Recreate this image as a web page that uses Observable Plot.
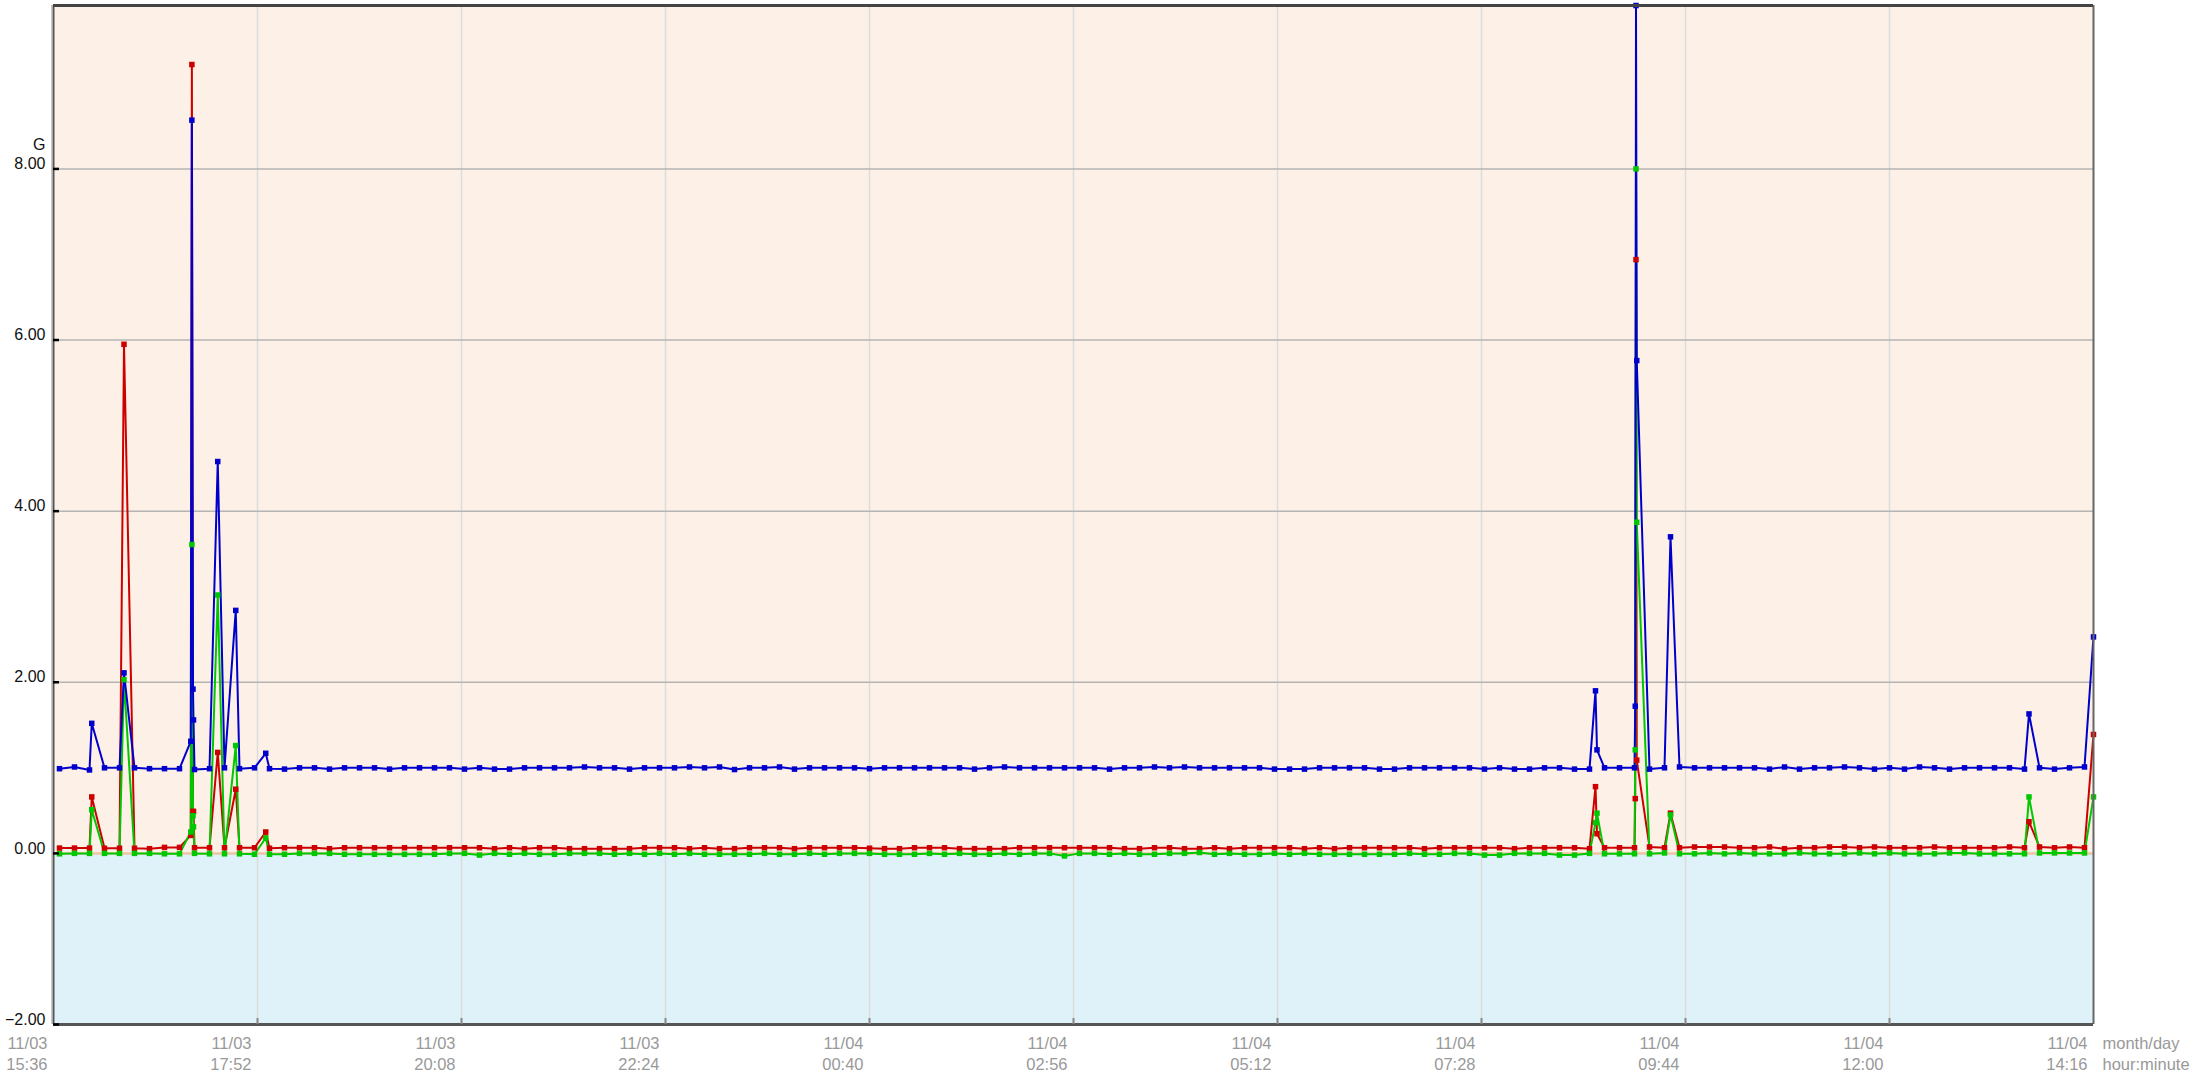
<!DOCTYPE html>
<html>
<head>
<meta charset="utf-8">
<script src="https://cdn.jsdelivr.net/npm/d3@7"></script>
<script src="https://cdn.jsdelivr.net/npm/@observablehq/plot@0.6"></script>
<style>
  html, body { margin: 0; padding: 0; background: #ffffff; }
  #chart svg { display: block; }
</style>
</head>
<body>
<div id="chart"></div>
<script>
// ---- data ----
const times = [
  "11/03 15:40","11/03 15:50","11/03 16:00","11/03 16:01:30","11/03 16:10","11/03 16:20","11/03 16:23",
  "11/03 16:30","11/03 16:40","11/03 16:50","11/03 17:00","11/03 17:07:30","11/03 17:08:15","11/03 17:09:00",
  "11/03 17:09:20","11/03 17:10","11/03 17:20","11/03 17:25:30","11/03 17:30","11/03 17:37:30","11/03 17:40",
  "11/03 17:50","11/03 17:57:30","11/03 18:00","11/03 18:10","11/03 18:20","11/03 18:30","11/03 18:40",
  "11/03 18:50","11/03 19:00","11/03 19:10","11/03 19:20","11/03 19:30","11/03 19:40","11/03 19:50",
  "11/03 20:00","11/03 20:10","11/03 20:20","11/03 20:30","11/03 20:40","11/03 20:50","11/03 21:00",
  "11/03 21:10","11/03 21:20","11/03 21:30","11/03 21:40","11/03 21:50","11/03 22:00","11/03 22:10",
  "11/03 22:20","11/03 22:30","11/03 22:40","11/03 22:50","11/03 23:00","11/03 23:10","11/03 23:20",
  "11/03 23:30","11/03 23:40","11/03 23:50","11/04 00:00","11/04 00:10","11/04 00:20","11/04 00:30",
  "11/04 00:40","11/04 00:50","11/04 01:00","11/04 01:10","11/04 01:20","11/04 01:30","11/04 01:40",
  "11/04 01:50","11/04 02:00","11/04 02:10","11/04 02:20","11/04 02:30","11/04 02:40","11/04 02:50",
  "11/04 03:00","11/04 03:10","11/04 03:20","11/04 03:30","11/04 03:40","11/04 03:50","11/04 04:00",
  "11/04 04:10","11/04 04:20","11/04 04:30","11/04 04:40","11/04 04:50","11/04 05:00","11/04 05:10",
  "11/04 05:20","11/04 05:30","11/04 05:40","11/04 05:50","11/04 06:00","11/04 06:10","11/04 06:20",
  "11/04 06:30","11/04 06:40","11/04 06:50","11/04 07:00","11/04 07:10","11/04 07:20","11/04 07:30",
  "11/04 07:40","11/04 07:50","11/04 08:00","11/04 08:10","11/04 08:20","11/04 08:30","11/04 08:40",
  "11/04 08:44","11/04 08:45","11/04 08:50","11/04 09:00","11/04 09:10","11/04 09:10:30","11/04 09:11:00",
  "11/04 09:11:30","11/04 09:20","11/04 09:30","11/04 09:34","11/04 09:40","11/04 09:50","11/04 10:00",
  "11/04 10:10","11/04 10:20","11/04 10:30","11/04 10:40","11/04 10:50","11/04 11:00","11/04 11:10",
  "11/04 11:20","11/04 11:30","11/04 11:40","11/04 11:50","11/04 12:00","11/04 12:10","11/04 12:20",
  "11/04 12:30","11/04 12:40","11/04 12:50","11/04 13:00","11/04 13:10","11/04 13:20","11/04 13:30",
  "11/04 13:33","11/04 13:40","11/04 13:50","11/04 14:00","11/04 14:10","11/04 14:16"
];

const blueSeries = [
  0.99,1.01,0.975,1.52,1.0,1.0,2.11,
  1.0,0.99,0.99,0.99,1.31,8.57,1.92,
  1.56,0.98,0.99,4.58,1.0,2.84,0.99,
  1.0,1.17,0.99,0.985,1.0,1.0,0.985,
  1.0,1.0,1.0,0.985,1.0,1.0,1.0,
  1.0,0.985,1.0,0.985,0.985,1.0,1.0,
  1.0,1.0,1.01,1.0,1.0,0.985,1.0,
  1.0,1.0,1.01,1.0,1.01,0.98,1.0,
  1.0,1.01,0.985,1.0,1.0,1.0,1.0,
  0.99,1.0,1.0,1.0,1.0,1.0,1.0,
  0.985,1.0,1.01,1.0,1.0,1.0,1.0,
  1.0,1.0,0.985,1.0,1.0,1.01,1.0,
  1.01,1.0,1.0,1.0,1.0,1.0,0.985,
  0.985,0.985,1.0,1.0,1.0,1.0,0.985,
  0.985,1.0,1.0,1.0,1.0,1.0,0.985,
  1.0,0.985,0.985,1.0,1.0,0.985,0.985,
  1.90,1.21,1.0,1.0,1.0,1.72,9.91,
  5.76,0.985,1.0,3.70,1.01,1.0,1.0,
  1.0,1.0,1.0,0.985,1.01,0.985,1.0,
  1.0,1.01,1.0,0.985,1.0,0.985,1.01,
  1.0,0.985,1.0,1.0,1.0,1.0,0.985,
  1.63,1.0,0.985,1.0,1.01,2.53
];

const redSeries = [
  0.062,0.062,0.062,0.66,0.06,0.06,5.95,
  0.06,0.055,0.07,0.07,0.21,9.22,0.49,
  0.49,0.066,0.066,1.18,0.066,0.75,0.066,
  0.066,0.25,0.06,0.066,0.066,0.066,0.055,
  0.066,0.066,0.066,0.066,0.066,0.066,0.066,
  0.066,0.066,0.066,0.055,0.066,0.055,0.066,
  0.066,0.055,0.055,0.055,0.055,0.055,0.066,
  0.066,0.066,0.055,0.066,0.055,0.055,0.066,
  0.066,0.066,0.055,0.066,0.066,0.066,0.066,
  0.06,0.055,0.055,0.066,0.066,0.066,0.055,
  0.055,0.055,0.055,0.066,0.066,0.066,0.066,
  0.066,0.066,0.066,0.055,0.055,0.066,0.066,
  0.055,0.055,0.066,0.055,0.066,0.066,0.066,
  0.066,0.055,0.066,0.055,0.066,0.066,0.066,
  0.066,0.066,0.055,0.066,0.066,0.066,0.066,
  0.066,0.055,0.066,0.066,0.066,0.066,0.055,
  0.78,0.23,0.066,0.066,0.066,0.64,6.94,
  1.09,0.075,0.066,0.47,0.066,0.075,0.075,
  0.075,0.066,0.066,0.075,0.055,0.066,0.066,
  0.075,0.075,0.066,0.075,0.066,0.066,0.066,
  0.075,0.066,0.066,0.066,0.066,0.075,0.066,
  0.37,0.075,0.066,0.075,0.066,1.39
];

const greenSeries = [
  -0.005,0.0,0.0,0.51,0.0,0.0,2.03,
  0.0,0.0,-0.005,-0.005,0.25,3.61,0.44,
  0.31,0.0,-0.005,3.02,-0.005,1.26,-0.005,
  -0.01,0.18,-0.01,-0.01,0.0,0.0,0.0,
  -0.01,-0.01,-0.01,-0.01,-0.01,-0.01,-0.01,
  0.0,0.0,-0.02,0.0,-0.01,0.0,-0.01,
  -0.01,0.0,0.0,0.0,-0.01,0.0,-0.01,
  0.0,-0.01,0.0,-0.01,-0.01,-0.01,-0.01,
  0.0,-0.01,-0.01,0.0,-0.01,0.0,0.0,
  0.0,-0.01,-0.01,-0.01,0.0,-0.01,0.0,
  -0.01,-0.01,0.0,-0.01,0.0,0.0,-0.03,
  0.0,0.0,-0.01,0.0,-0.01,-0.01,0.0,
  0.0,0.01,-0.01,0.0,-0.01,-0.01,0.0,
  -0.01,0.0,-0.01,-0.01,-0.01,-0.01,-0.01,
  -0.01,0.0,-0.01,-0.01,0.0,0.0,-0.02,
  -0.02,0.0,0.0,0.0,-0.02,-0.02,0.0,
  0.36,0.47,-0.005,-0.005,-0.005,1.21,8.0,
  3.87,-0.005,0.005,0.45,-0.005,-0.005,0.005,
  -0.005,0.005,-0.005,-0.005,-0.005,0.005,-0.005,
  -0.005,-0.005,0.005,-0.005,0.005,-0.005,-0.005,
  -0.005,0.005,0.005,-0.005,-0.005,-0.005,-0.005,
  0.66,0.005,0.005,0.005,0.005,0.66
];

const xTicks = [
  "11/03 15:36","11/03 17:52","11/03 20:08","11/03 22:24","11/04 00:40","11/04 02:56",
  "11/04 05:12","11/04 07:28","11/04 09:44","11/04 12:00","11/04 14:16"
];
const yTicks = [-2, 0, 2, 4, 6, 8];
const yGrid = [2, 4, 6, 8];
const yUnit = "G";
const xUnitLabels = ["month/day", "hour:minute"];
const yMin = -2, yMax = 9.91;

// ---- build ----
const parseT = s => (s.length > 11 ? d3.utcParse("%m/%d %H:%M:%S") : d3.utcParse("%m/%d %H:%M"))(s);
const tickDates = xTicks.map(parseT);
const x0 = tickDates[0], x1 = tickDates[tickDates.length - 1];
const mk = arr => times.map((t, i) => ({t: parseT(t), v: arr[i]}));
const blue = mk(blueSeries), red = mk(redSeries), green = mk(greenSeries);

const C_BLUE = "#0000cc", C_RED = "#cc0000", C_GREEN = "#00c800";
const lineOpts = (c) => ({x: "t", y: "v", stroke: c, strokeWidth: 2});
const dotOpts = (c) => ({x: "t", y: "v", symbol: "square", r: 3.1, fill: c, stroke: "none"});
const narrow = "'Liberation Sans Narrow', 'Arial Narrow', 'Liberation Sans', sans-serif";

const chart = Plot.plot({
  width: 2190,
  height: 1080,
  marginLeft: 53,
  marginRight: 97,
  marginTop: 5,
  marginBottom: 56,
  style: {fontFamily: "'Liberation Sans', Arial, sans-serif", background: "#ffffff", overflow: "visible"},
  x: {type: "utc", domain: [x0, x1], axis: null},
  y: {domain: [yMin, yMax], axis: null},
  marks: [
    // background bands
    Plot.rectY([0], {x1: x0, x2: x1, y1: 0, y2: yMax, fill: "#fdf0e6"}),
    Plot.rectY([0], {x1: x0, x2: x1, y1: yMin, y2: 0, fill: "#e0f2f9"}),
    // grid
    Plot.ruleX(tickDates.slice(1, -1), {stroke: "#dcdcdc", strokeWidth: 1.5}),
    Plot.ruleY(yGrid, {x1: x0, x2: x1, stroke: "#b4b4b4", strokeWidth: 1.5}),
    Plot.ruleY([0], {x1: x0, x2: x1, stroke: "#efc3a4", strokeWidth: 2.5}),
    // series
    Plot.line(red, lineOpts(C_RED)),
    Plot.line(green, lineOpts(C_GREEN)),
    Plot.line(blue, lineOpts(C_BLUE)),
    Plot.dot(red, dotOpts(C_RED)),
    Plot.dot(green, dotOpts(C_GREEN)),
    Plot.dot(blue, dotOpts(C_BLUE)),
    // frame
    Plot.ruleX([x0], {y1: yMin, y2: yMax, stroke: "#c8c8c8", strokeWidth: 1, dx: -2}),
    Plot.ruleX([x0], {y1: yMin, y2: yMax, stroke: "#555555", strokeWidth: 2}),
    Plot.ruleX([x1], {y1: yMin, y2: yMax, stroke: "#666666", strokeWidth: 2}),
    Plot.ruleY([yMax], {x1: x0, x2: x1, stroke: "#444444", strokeWidth: 3}),
    Plot.ruleY([yMin], {x1: x0, x2: x1, stroke: "#555555", strokeWidth: 3}),
    // y tick dashes and labels
    Plot.ruleY(yTicks, {x1: x0, x2: d3.utcMinute.offset(x0, 4), stroke: "#000000", strokeWidth: 2.5}),
    Plot.text(yTicks, {x: x0, y: d => d, text: d => d3.format(".2f")(d), textAnchor: "end", dx: -8, dy: -5,
      fontSize: 16, fill: "#111111"}),
    Plot.text([yUnit], {x: x0, y: 8, text: d => d, textAnchor: "end", dx: -8, dy: -24, fontSize: 16, fill: "#111111"}),
    // x ticks and labels
    Plot.ruleX(tickDates.slice(1, -1), {y1: yMin, y2: yMin + 0.07, stroke: "#888888", strokeWidth: 2}),
    Plot.text(tickDates, {x: d => d, y: yMin, text: d => d3.utcFormat("%m/%d")(d) + "\n" + d3.utcFormat("%H:%M")(d),
      textAnchor: "end", lineAnchor: "top", dx: -6, dy: 9, fontSize: 16.5, lineHeight: 1.3, fill: "#999999",
      fontFamily: narrow, fontStretch: "condensed"}),
    Plot.text([xUnitLabels.join("\n")], {x: x1, y: yMin, text: d => d, textAnchor: "start", lineAnchor: "top",
      dx: 9, dy: 9, fontSize: 16.5, lineHeight: 1.3, fill: "#999999",
      fontFamily: narrow, fontStretch: "condensed"})
  ]
});
document.getElementById("chart").appendChild(chart);
</script>
</body>
</html>
